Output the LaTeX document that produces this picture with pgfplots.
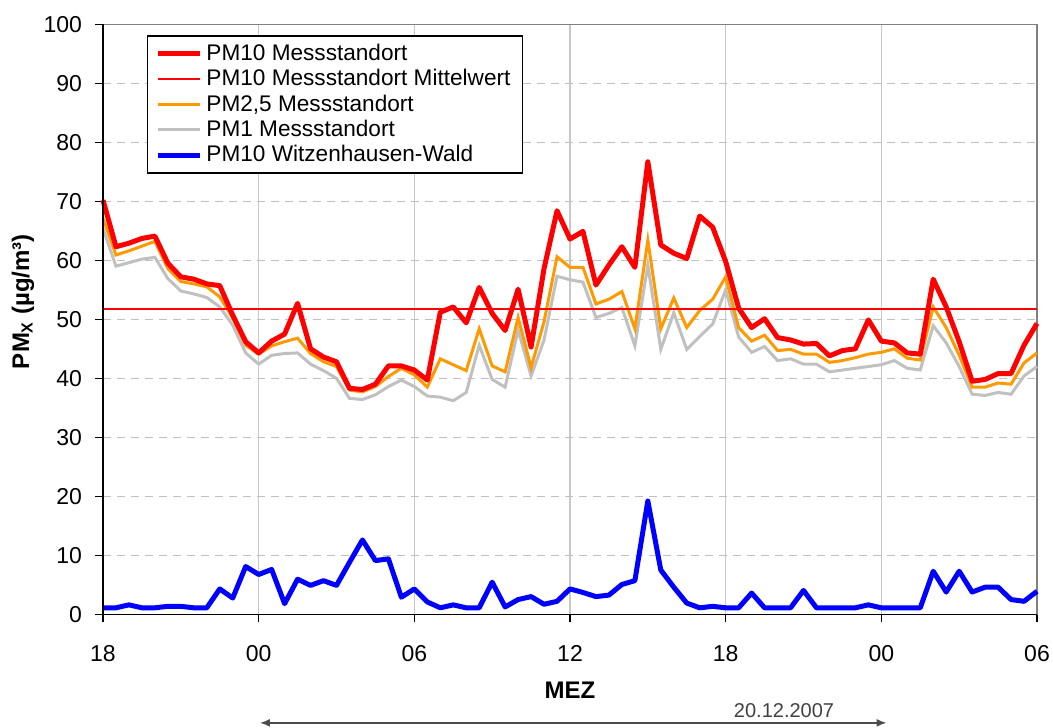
\documentclass[border=0pt]{standalone}
\usepackage{fontspec}
\setmainfont{Liberation Sans}
\usepackage{pgfplots}
\usepackage{pgfplotstable}
\pgfplotsset{compat=1.18}
\usetikzlibrary{arrows.meta}

\definecolor{pmred}{HTML}{FF0000}
\definecolor{pmorange}{HTML}{FF9900}
\definecolor{pmgray}{HTML}{C0C0C0}
\definecolor{pmblue}{HTML}{0000FF}
\definecolor{gridgray}{HTML}{C8C8C8}

% half-hourly values, i = 0 is 18:00 on 19.12.2007
\pgfplotstableread{
i  pm10  pm25  pm1   wald
0  70.2  67.1  65.4  1.1
1  62.3  60.9  59.0  1.1
2  62.9  61.6  59.6  1.6
3  63.7  62.4  60.2  1.1
4  64.1  63.2  60.5  1.1
5  59.5  58.6  56.9  1.35
6  57.2  56.4  54.8  1.35
7  56.8  56.0  54.3  1.1
8  56.0  55.5  53.7  1.1
9  55.7  53.8  52.1  4.3
10 50.7  50.2  49.0  2.75
11 46.2  45.6  44.3  8.1
12 44.3  44.1  42.4  6.75
13 46.3  45.5  43.9  7.6
14 47.5  46.2  44.2  1.8
15 52.7  46.8  44.3  5.95
16 45.0  44.2  42.4  4.9
17 43.6  42.8  41.3  5.7
18 42.8  42.0  40.0  4.9
19 38.3  38.0  36.6  8.8
20 38.1  37.7  36.4  12.6
21 39.0  38.6  37.2  9.1
22 42.1  40.3  38.6  9.4
23 42.1  41.7  39.7  2.9
24 41.4  40.6  38.6  4.3
25 39.7  38.5  37.0  2.1
26 51.2  43.3  36.8  1.1
27 52.1  42.3  36.2  1.6
28 49.4  41.3  37.6  1.1
29 55.4  48.4  45.6  1.1
30 51.0  42.1  39.8  5.45
31 48.1  41.1  38.5  1.25
32 55.1  50.3  48.2  2.5
33 45.3  41.8  40.4  3.0
34 58.6  49.6  46.5  1.7
35 68.4  60.6  57.3  2.2
36 63.6  58.8  56.7  4.3
37 64.9  58.8  56.3  3.7
38 55.8  52.6  50.3  3.0
39 59.2  53.4  51.0  3.25
40 62.3  54.7  52.0  5.05
41 58.8  48.4  45.5  5.7
42 76.7  63.4  59.2  19.2
43 62.6  48.4  44.9  7.5
44 61.2  53.6  51.1  4.6
45 60.3  48.6  44.9  1.9
46 67.5  51.5  47.1  1.1
47 65.6  53.4  49.2  1.35
48 59.8  57.2  55.0  1.1
49 51.9  48.6  47.0  1.1
50 48.6  46.3  44.4  3.6
51 50.1  47.3  45.4  1.1
52 46.9  44.7  43.0  1.1
53 46.5  44.9  43.3  1.1
54 45.8  44.1  42.4  4.05
55 45.9  44.1  42.4  1.1
56 43.8  42.7  41.1  1.1
57 44.7  43.0  41.4  1.1
58 45.0  43.5  41.7  1.1
59 49.9  44.1  42.0  1.6
60 46.3  44.4  42.3  1.1
61 46.0  45.0  43.0  1.1
62 44.3  43.4  41.7  1.1
63 44.1  43.1  41.4  1.1
64 56.8  52.1  48.9  7.3
65 52.1  48.6  46.0  3.77
66 46.2  43.9  42.0  7.3
67 39.5  38.5  37.3  3.77
68 39.8  38.5  37.1  4.6
69 40.8  39.2  37.6  4.6
70 40.8  39.0  37.3  2.5
71 45.6  42.6  40.4  2.2
72 49.3  44.3  42.0  3.9
}\pmdata

% PM10 mean over the whole period
\pgfplotstableread{
i  mittel
0  51.7
72 51.7
}\pmmean

\begin{document}
\begin{tikzpicture}
\useasboundingbox (-51.5pt,-56.35pt) rectangle (475pt,307.15pt);
\begin{axis}[
  at={(0,0)}, anchor=south west,
  scale only axis, width=467pt, height=295pt,
  xmin=0, xmax=72, ymin=0, ymax=100,
  xtick={0,12,...,72},
  xticklabels={18,00,06,12,18,00,06},
  ytick={0,10,...,100},
  xtick pos=left, ytick pos=left,
  tick align=outside, major tick length=4pt,
  tick style={black, line width=0.6pt},
  /pgf/number format/assume math mode=true,
  ticklabel style={font=\fontsize{11.5}{13}\selectfont},
  xticklabel style={yshift=-8pt},
  yticklabel style={xshift=-3pt},
  xmajorgrids, ymajorgrids,
  x grid style={gridgray, line width=0.6pt},
  y grid style={pmgray, line width=0.6pt, dash pattern=on 4pt off 3pt},
  axis line style={draw=gray, line width=0.75pt},
  clip=false,
  xlabel={\bfseries MEZ},
  xlabel style={at={(rel axis cs:0.5,0)}, anchor=center, yshift=-38pt,
                font=\fontsize{12}{14}\selectfont},
  ylabel={\bfseries PM\textsubscript{X} (µg/m³)},
  ylabel style={at={(axis description cs:-0.0857,0.53)}, anchor=center,
                font=\fontsize{12}{14}\selectfont},
  legend style={at={(0.047,0.981)}, anchor=north west,
                draw=black, line width=0.6pt, fill=white,
                font=\fontsize{11.3}{13}\selectfont,
                inner xsep=4pt, inner ysep=2pt, row sep=-1pt,
                cells={anchor=west}},
  legend image code/.code={\draw[#1] (0pt,0pt) -- (21pt,0pt);},
]
% legend entries first, in the reference order
\addlegendimage{pmred, line width=2.5pt}
\addlegendentry{PM10 Messstandort}
\addlegendimage{pmred, line width=1pt}
\addlegendentry{PM10 Messstandort Mittelwert}
\addlegendimage{pmorange, line width=1.5pt}
\addlegendentry{PM2,5 Messstandort}
\addlegendimage{pmgray, line width=1.5pt}
\addlegendentry{PM1 Messstandort}
\addlegendimage{pmblue, line width=2.5pt}
\addlegendentry{PM10 Witzenhausen-Wald}

\addplot[pmgray, line width=1.5pt, forget plot] table[x=i, y=pm1] {\pmdata};
\addplot[pmorange, line width=1.5pt, forget plot] table[x=i, y=pm25] {\pmdata};
\addplot[pmred, line width=2.5pt, line join=round, forget plot] table[x=i, y=pm10] {\pmdata};
\addplot[red, line width=1pt, forget plot] table[x=i, y=mittel] {\pmmean};
\addplot[pmblue, line width=2.5pt, line join=round, forget plot] table[x=i, y=wald] {\pmdata};

% black left and bottom axis lines
\draw[black, line width=0.8pt] (rel axis cs:0,1) -- (rel axis cs:0,0) -- (rel axis cs:1,0);

% date span below the axis
\node[text=black!75, font=\fontsize{10}{12}\selectfont] at (axis cs:52.5,-16.4) {20.12.2007};
\draw[black!70, line width=0.8pt, {Latex[length=5pt,width=4pt]}-{Latex[length=5pt,width=4pt]}]
  (axis cs:12.1,-18.4) -- (axis cs:60.4,-18.4);
\end{axis}
\end{tikzpicture}
\end{document}
